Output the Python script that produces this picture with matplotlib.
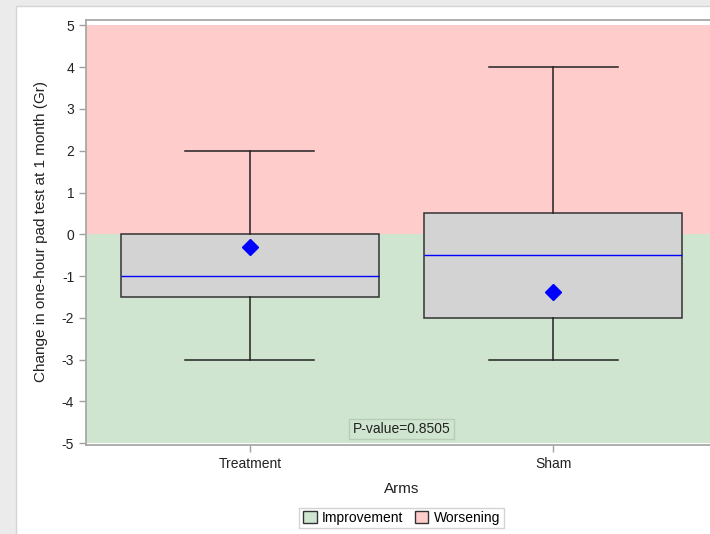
import numpy as np
import matplotlib as mpl
import matplotlib.pyplot as plt
from matplotlib.patches import Patch, Rectangle

# box statistics
arms = ["Treatment", "Sham"]
q1 = [-1.5, -2.0]
median = [-1.0, -0.5]
q3 = [0.0, 0.5]
whis_lo = [-3.0, -3.0]
whis_hi = [2.0, 4.0]
means = [-0.31, -1.37]
p_text = "P-value=0.8505"
y_ticks = [-5, -4, -3, -2, -1, 0, 1, 2, 3, 4, 5]

mpl.rc('font', family=['Liberation Sans', 'DejaVu Sans'])
mpl.rcParams['axes.unicode_minus'] = False

fig = plt.figure(figsize=(7.10, 5.34), dpi=100, facecolor="#ebebeb")
# white panel of the viewer window
fig.patches.append(Rectangle((16/710, -0.01), 1, 1.01 - 6/534, transform=fig.transFigure,
                             facecolor="white", edgecolor="#d4d4d4", lw=1, zorder=-10))

ax = fig.add_axes([86/710, 89.5/534, 631/710, 425/534])
ax.set_xlim(0.46, 2.54)
ax.set_ylim(-5.03, 5.14)
ax.set_facecolor("white")

# shaded regions
ax.axhspan(0, 5, color="#ffcccc", lw=0, zorder=0)
ax.axhspan(-5, 0, color="#cfe5cf", lw=0, zorder=0)

stats = []
for i in range(len(arms)):
    stats.append(dict(med=median[i], q1=q1[i], q3=q3[i],
                      whislo=whis_lo[i], whishi=whis_hi[i],
                      mean=means[i], fliers=[], label=arms[i]))

ax.bxp(stats, positions=[1, 2], widths=0.85, capwidths=0.425,
       patch_artist=True, showmeans=True, showfliers=False,
       boxprops=dict(facecolor="#d3d3d3", edgecolor="#333333", lw=1.1),
       medianprops=dict(color="#0000ff", lw=1),
       whiskerprops=dict(color="#222222", lw=1.1),
       capprops=dict(color="#222222", lw=1.1),
       meanprops=dict(marker="D", markerfacecolor="#0000ff",
                      markeredgecolor="#0000ff", markersize=8),
       zorder=2)

ax.set_yticks(y_ticks)
ax.set_yticklabels([str(t) for t in y_ticks])
ax.set_xticks([1, 2])
ax.set_xticklabels(arms)
ax.tick_params(axis="both", direction="out", length=5, width=1,
               color="#a0a0a0", labelsize=10, labelcolor="#222222")
ax.tick_params(axis="x", pad=4)
for s in ax.spines.values():
    s.set_color("#a8a8a8")
    s.set_linewidth(1.3)

ax.set_ylabel("Change in one-hour pad test at 1 month (Gr)", fontsize=11,
              labelpad=10, color="#222222")
ax.set_xlabel("Arms", fontsize=11, labelpad=8, color="#222222")

ax.text(401.5/710, 1 - 429/534, p_text, transform=fig.transFigure, ha="center",
        va="center", fontsize=10, color="#222222",
        bbox=dict(boxstyle="square,pad=0.25", facecolor="#cfe5cf",
                  edgecolor="#b8ccb8", lw=1))

handles = [Patch(facecolor="#cfe5cf", edgecolor="#333333", label="Improvement"),
           Patch(facecolor="#ffcccc", edgecolor="#333333", label="Worsening")]
leg = fig.legend(handles=handles, loc="center", bbox_to_anchor=(401.5/710, 1 - 518/534),
                 ncol=2, fontsize=10, frameon=True, fancybox=False,
                 edgecolor="#c8c8c8", handlelength=1.0, handleheight=1.0,
                 handletextpad=0.4, columnspacing=0.8, borderpad=0.25,
                 borderaxespad=0)
leg.get_frame().set_linewidth(1)

fig.savefig("out.png", dpi=100, facecolor=fig.get_facecolor())
